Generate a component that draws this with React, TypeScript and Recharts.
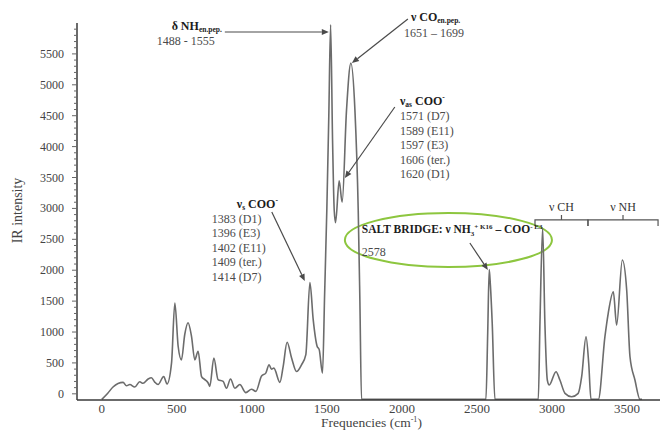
import React from 'react';
import { LineChart, Line, XAxis, YAxis, ReferenceLine, ReferenceDot, ReferenceArea, Label } from 'recharts';

const SERIF = 'Liberation Serif, Times New Roman, Times, serif';

// spectrum (cm-1 vs. IR intensity)
const FREQ = [
  0, 40, 75, 142, 165, 187, 220, 253, 275, 309, 331, 353, 375, 413, 435, 465, 487, 509, 531, 553,
  575, 598, 620, 642, 665, 687, 709, 720, 747, 775, 809, 831, 858, 887, 920, 960, 998, 1027, 1065, 1093,
  1115, 1131, 1147, 1187, 1209, 1235, 1265, 1298, 1331, 1360, 1387, 1409, 1435, 1449, 1471, 1485, 1500, 1513, 1525, 1538,
  1549, 1558, 1582, 1602, 1631, 1660, 1687, 1709, 1720, 1731, 1760, 2540, 2560, 2572, 2582, 2590, 2602, 2620, 2640, 2895,
  2909, 2920, 2938, 2953, 2969, 2982, 3027, 3053, 3087, 3131, 3175, 3198, 3227, 3245, 3260, 3300, 3309, 3353, 3375, 3409,
  3431, 3469, 3498, 3520, 3553, 3587, 3600,
];
const INTENSITY = [
  -90, 10, 110, 185, 130, 150, 110, 195, 170, 240, 260, 190, 150, 280, 160, 500, 1470, 770, 550, 960,
  1150, 930, 550, 690, 280, 230, 175, 120, 580, 230, 200, 90, 240, 90, 150, 20, 75, 40, 290, 335,
  470, 400, 415, 185, 445, 835, 580, 360, 470, 635, 1800, 1200, 770, 715, 335, 1600, 3000, 4500, 5970, 4100,
  2975, 2770, 3445, 3100, 4590, 5350, 4590, 2975, 1520, -90, -90, -90, -90, 1000, 2010, 1750, 1140, -90, -90, -90,
  -90, 1140, 2680, 1140, 224, 143, 358, 224, 8, -47, 8, 277, 924, 494, -90, -90, -90, 924, 1303, 1652,
  1113, 2165, 1680, 600, 224, -90, -90,
];

const X_TICKS = [0, 500, 1000, 1500, 2000, 2500, 3000, 3500];
const Y_LABELS = [0, 500, 1000, 1500, 2000, 2500, 3000, 3500, 4000, 4500, 5000, 5500];
const Y_MINOR = Array.from({ length: 60 }, (_, k) => k * 100);

const AS_LINES = ['1571 (D7)', '1589 (E11)', '1597 (E3)', '1606 (ter.)', '1620 (D1)'];
const S_LINES = ['1383 (D1)', '1396 (E3)', '1402 (E11)', '1409 (ter.)', '1414 (D7)'];

const data = FREQ.map((f, k) => ({ f, i: INTENSITY[k] }));

const HEAD = { fontFamily: SERIF, fontWeight: 700, fill: '#1c1c1c' };
const BODY = { fontFamily: SERIF, fill: '#4a4a4a' };
const AXIS = '#3a3a3a';

const YTick = (props: any) => {
  const { x, y, payload } = props;
  const major = Y_LABELS.includes(payload.value);
  return (
    <g>
      <line x1={x - (major ? 5 : 3)} x2={x} y1={y} y2={y} stroke="#666" strokeWidth={1} />
      {major && (
        <text x={x - 13} y={y} dy={4} textAnchor="end" fontSize={12} fontFamily={SERIF} fill="#444">
          {payload.value}
        </text>
      )}
    </g>
  );
};

const arrow = (p: any) => {
  const { x1, y1, x2, y2 } = p;
  const a = Math.atan2(y2 - y1, x2 - x1);
  const L = 7;
  const W = 3;
  const bx = x2 - L * Math.cos(a);
  const by = y2 - L * Math.sin(a);
  const pts = `${x2},${y2} ${bx + W * Math.sin(a)},${by - W * Math.cos(a)} ${bx - W * Math.sin(a)},${by + W * Math.cos(a)}`;
  return (
    <g>
      <line x1={x1} y1={y1} x2={bx} y2={by} stroke="#4a4a4a" strokeWidth={1.2} />
      <polygon points={pts} fill="#4a4a4a" />
    </g>
  );
};

const bracket = (text: string) => (p: any) => {
  const { x, y, width, height } = p;
  const mid = x + width / 2;
  const h = y + height * 0.45;
  return (
    <g>
      <path
        d={`M${x},${y + height} L${x},${h} L${x + width},${h} L${x + width},${y + height} M${mid},${h} L${mid},${y}`}
        fill="none"
        stroke="#555"
        strokeWidth={1.2}
      />
      <text x={mid} y={y - 4} textAnchor="middle" fontSize={12} {...BODY} fill="#333">
        {text}
      </text>
    </g>
  );
};

export default function App() {
  return (
    <div style={{ position: 'absolute', left: 0, top: 0, width: 661, height: 430, background: '#fff' }}>
      <LineChart width={661} height={430} data={data} margin={{ top: 23, right: 1, bottom: 0, left: 0 }}>
        <XAxis
          type="number"
          dataKey="f"
          domain={[-165, 3720]}
          ticks={X_TICKS}
          allowDataOverflow
          height={30}
          tickLine={false}
          tickSize={0}
          tickMargin={4}
          axisLine={{ stroke: AXIS, strokeWidth: 1.5 }}
          tick={{ fontSize: 13, fontFamily: SERIF, fill: '#444' }}
        >
          <Label
            content={(props: any) => {
              const vb = props.viewBox;
              return (
                <text x={vb.x + vb.width / 2 + 3} y={vb.y + 27} textAnchor="middle" fontSize={13.5} fontFamily={SERIF} fill="#444">
                  Frequencies (cm<tspan fontSize={8} dy={-5}>-1</tspan>
                  <tspan dy={5}>)</tspan>
                </text>
              );
            }}
          />
        </XAxis>
        <YAxis
          type="number"
          domain={[-100, 6000]}
          ticks={Y_MINOR}
          interval={0}
          allowDataOverflow
          width={77}
          tickLine={false}
          tickSize={0}
          tickMargin={0}
          axisLine={{ stroke: AXIS, strokeWidth: 1.5 }}
          tick={<YTick />}
        >
          <Label
            content={(props: any) => {
              const vb = props.viewBox;
              const cx = vb.x + 17;
              const cy = vb.y + vb.height / 2 - 1;
              return (
                <text x={cx} y={cy} transform={`rotate(-90, ${cx}, ${cy})`} textAnchor="middle" dominantBaseline="central" fontSize={14} fontFamily={SERIF} fill="#444">
                  IR intensity
                </text>
              );
            }}
          />
        </YAxis>

        <ReferenceArea
          x1={1620}
          x2={3000}
          y1={2052}
          y2={2926}
          ifOverflow="visible"
          shape={(p: any) => (
            <ellipse cx={p.x + p.width / 2} cy={p.y + p.height / 2} rx={p.width / 2} ry={p.height / 2} fill="none" stroke="#8dc63f" strokeWidth={2} />
          )}
        />
        <ReferenceArea x1={2887} x2={3240} y1={2715} y2={2893} ifOverflow="visible" shape={bracket('ν CH')} />
        <ReferenceArea x1={3240} x2={3707} y1={2715} y2={2893} ifOverflow="visible" shape={bracket('ν NH')} />

        <Line type="monotone" dataKey="i" stroke="#6c6c6c" strokeWidth={1.6} dot={false} isAnimationActive={false} />

        <ReferenceLine segment={[{ x: 820, y: 5854 }, { x: 1513, y: 5854 }]} ifOverflow="visible" shape={arrow} />
        <ReferenceLine segment={[{ x: 2040, y: 6065 }, { x: 1667, y: 5353 }]} ifOverflow="visible" shape={arrow} />
        <ReferenceLine segment={[{ x: 1953, y: 4641 }, { x: 1620, y: 3492 }]} ifOverflow="visible" shape={arrow} />
        <ReferenceLine segment={[{ x: 1133, y: 2942 }, { x: 1353, y: 1825 }]} ifOverflow="visible" shape={arrow} />
        <ReferenceLine segment={[{ x: 2453, y: 2440 }, { x: 2573, y: 2003 }]} ifOverflow="visible" shape={arrow} />

        <ReferenceDot
          x={800}
          y={5887}
          r={0}
          ifOverflow="visible"
          shape={(p: any) => (
            <g>
              <text x={p.cx} y={p.cy} textAnchor="end" fontSize={12} {...HEAD}>
                δ NH<tspan fontSize={7.5} dy={2}>en.pep.</tspan>
              </text>
              <text x={p.cx - 7} y={p.cy + 15} textAnchor="end" fontSize={12} {...BODY}>
                1488 - 1555
              </text>
            </g>
          )}
        />
        <ReferenceDot
          x={2060}
          y={6030}
          r={0}
          ifOverflow="visible"
          shape={(p: any) => (
            <g>
              <text x={p.cx} y={p.cy} fontSize={12} {...HEAD}>
                ν CO<tspan fontSize={7.5} dy={2}>en.pep.</tspan>
              </text>
              <text x={p.cx - 7} y={p.cy + 16} fontSize={12} {...BODY}>
                1651 – 1699
              </text>
            </g>
          )}
        />
        <ReferenceDot
          x={1987}
          y={4673}
          r={0}
          ifOverflow="visible"
          shape={(p: any) => (
            <g>
              <text x={p.cx} y={p.cy} fontSize={12} {...HEAD}>
                ν<tspan fontSize={7.5} dy={2}>as</tspan>
                <tspan dy={-2}> COO</tspan>
                <tspan fontSize={7.5} dy={-5}>-</tspan>
              </text>
              {AS_LINES.map((t, k) => (
                <text key={t} x={p.cx} y={p.cy + 15 + k * 14.5} fontSize={12} {...BODY}>
                  {t}
                </text>
              ))}
            </g>
          )}
        />
        <ReferenceDot
          x={900}
          y={3010}
          r={0}
          ifOverflow="visible"
          shape={(p: any) => (
            <g>
              <text x={p.cx} y={p.cy} fontSize={12} {...HEAD}>
                ν<tspan fontSize={7.5} dy={2}>s</tspan>
                <tspan dy={-2}> COO</tspan>
                <tspan fontSize={7.5} dy={-5}>-</tspan>
              </text>
              {S_LINES.map((t, k) => (
                <text key={t} x={p.cx - 25} y={p.cy + 15 + k * 14.5} fontSize={12} {...BODY}>
                  {t}
                </text>
              ))}
            </g>
          )}
        />
        <ReferenceDot
          x={1733}
          y={2602}
          r={0}
          ifOverflow="visible"
          shape={(p: any) => (
            <g>
              <text x={p.cx} y={p.cy} fontSize={11.5} {...HEAD}>
                SALT BRIDGE: ν NH<tspan fontSize={7} dy={3}>3</tspan>
                <tspan fontSize={7} dy={-7}>+ K16</tspan>
                <tspan dy={4}> – COO</tspan>
                <tspan fontSize={7} dy={-4}>- E3</tspan>
              </text>
              <text x={p.cx} y={p.cy + 23} fontSize={12} {...BODY}>
                2578
              </text>
            </g>
          )}
        />
      </LineChart>
    </div>
  );
}
